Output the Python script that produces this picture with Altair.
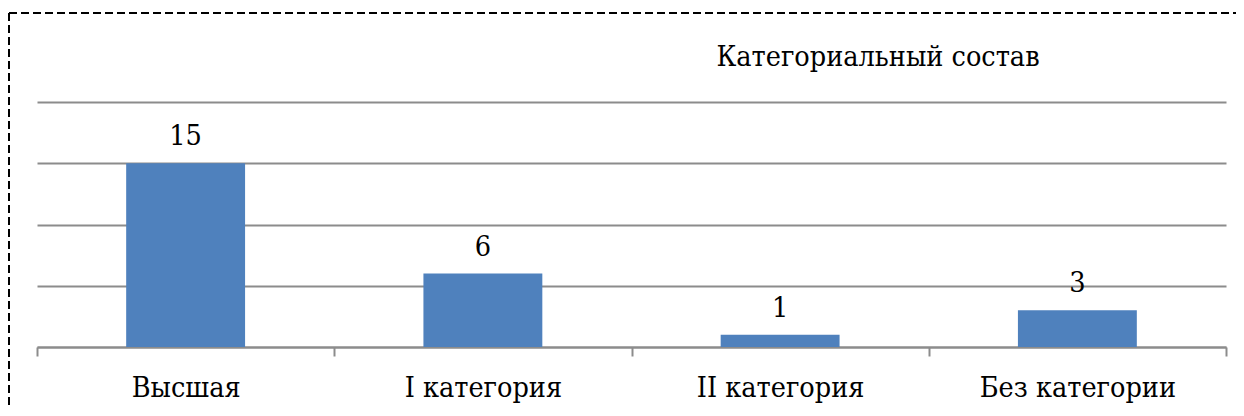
import altair as alt
import pandas as pd

categories = ["Высшая", "I категория", "II категория", "Без категории"]
values = [15, 6, 1, 3]
title_text = "Категориальный состав"

df = pd.DataFrame({"cat": categories, "val": values})

FONT = "DejaVu Serif Condensed"
FS = 28.5
GRAY = "#8c8c8c"

x = alt.X(
    "cat:N",
    sort=categories,
    title=None,
    scale=alt.Scale(paddingInner=0, paddingOuter=0),
    axis=alt.Axis(
        labelAngle=0,
        labelFont=FONT,
        labelFontSize=FS,
        labelColor="#000000",
        labelBaseline="alphabetic",
        labelPadding=40,
        labelLimit=0,
        tickBand="extent",
        tickSize=9,
        tickColor=GRAY,
        tickWidth=2,
        domainColor=GRAY,
        domainWidth=2,
        grid=False,
    ),
)
y = alt.Y(
    "val:Q",
    title=None,
    scale=alt.Scale(domain=[0, 20]),
    axis=alt.Axis(
        values=[0, 5, 10, 15, 20],
        labels=False,
        ticks=False,
        domain=False,
        grid=True,
        gridColor=GRAY,
        gridWidth=2,
    ),
)

base = alt.Chart(df)
bars = base.mark_bar(color="#4F81BD", width=alt.RelativeBandSize(0.4)).encode(x=x, y=y)
labels = base.mark_text(
    font=FONT, fontSize=FS, color="#000000", baseline="alphabetic", dy=-18
).encode(x=alt.X("cat:N", sort=categories), y="val:Q", text="val:Q")

title_df = pd.DataFrame({"t": [title_text]})
title = alt.Chart(title_df).mark_text(
    font=FONT, fontSize=FS, color="#000000", baseline="alphabetic", align="center"
).encode(x=alt.value(841), y=alt.value(-36), text="t:N")

border = alt.Data(values=[{}])
top_line = alt.Chart(border).mark_rule(
    color="#000000", strokeWidth=2, strokeDash=[8, 4]
).encode(x=alt.value(-28), x2=alt.value(1220), y=alt.value(-89))
left_line = alt.Chart(border).mark_rule(
    color="#000000", strokeWidth=2, strokeDash=[8, 4]
).encode(x=alt.value(-28), y=alt.value(-89), y2=alt.value(320))

chart = (
    alt.layer(bars, labels, title, top_line, left_line)
    .properties(
        width=1189,
        height=245,
        autosize=alt.AutoSizeParams(type="none"),
        padding={"left": 29, "top": 94, "right": 10, "bottom": 60},
    )
    .configure_view(stroke=None)
)

chart.save("out.html", embed_options={"renderer": "svg", "actions": False})
